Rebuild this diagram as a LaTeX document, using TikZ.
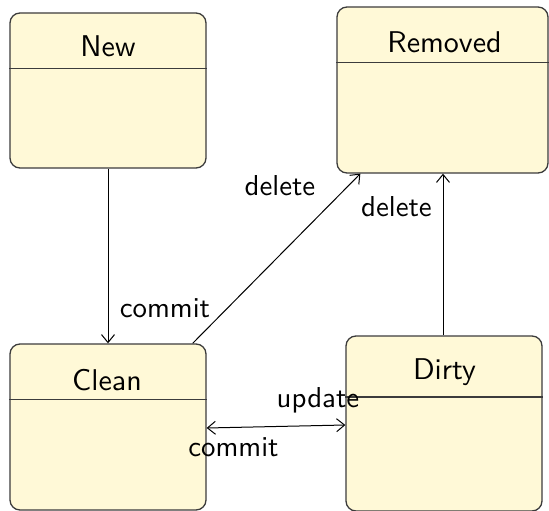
\documentclass[tikz,border=0pt]{standalone}
\usetikzlibrary{arrows.meta,calc}
\definecolor{statefill}{HTML}{FFF9D7}
\definecolor{stateline}{HTML}{3C3C3C}
\newcommand\titlefmt[1]{\scalebox{3.0}{\sffamily\fontsize{10}{12}\selectfont #1}}
\newcommand\labelfmt[1]{\scalebox{2.88}{\sffamily\fontsize{10}{12}\selectfont #1}}
\tikzset{
  state/.style={draw=stateline, fill=statefill, line width=1.3pt, rounded corners=10pt, inner sep=0pt},
  divider/.style={draw=stateline, line width=1.3pt},
  titletext/.style={anchor=base, inner sep=0pt},
  labeltext/.style={anchor=base, inner sep=0pt},
  trans/.style={draw=black, line width=1pt, -{Straight Barb[length=8pt,width=13pt]}},
}
\begin{document}
\begin{tikzpicture}[x=1pt,y=-1pt]
\useasboundingbox (0,0) rectangle (549,511);
% states
\node[state, minimum width=196pt, minimum height=155pt] (new) at (108,90.5) {};
\node[state, minimum width=211pt, minimum height=166pt] (removed) at (442.5,90) {};
\node[state, minimum width=196pt, minimum height=166pt] (clean) at (108,427) {};
\node[state, minimum width=196pt, minimum height=175pt] (dirty) at (444,423.5) {};
% dividers
\draw[divider] ([yshift=-56pt]new.north west) -- ([yshift=-56pt]new.north east);
\draw[divider] ([yshift=-56pt]removed.north west) -- ([yshift=-56pt]removed.north east);
\draw[divider] ([yshift=-56pt]clean.north west) -- ([yshift=-56pt]clean.north east);
\draw[divider] ([yshift=-61.5pt]dirty.north west) -- ([yshift=-61.5pt]dirty.north east);
% titles
\node[titletext] (newt) at (108,57) {\titlefmt{New}};
\node[titletext] (removedt) at (444.5,52.7) {\titlefmt{Removed}};
\node[titletext] (cleant) at (107,390) {\titlefmt{Clean}};
\node[titletext] (dirtyt) at (444.5,379.3) {\titlefmt{Dirty}};
% transitions
\draw[trans] (new.south) -- (clean.north);
\draw[trans] ([xshift=-14pt]clean.north east) -- ([xshift=24pt]removed.south west);
\draw[trans] ([xshift=-1pt]dirty.north) -- ([xshift=-1pt]dirty.north |- removed.south);
\draw[trans, {Straight Barb[length=8pt,width=13pt]}-{Straight Barb[length=8pt,width=13pt]}] ([yshift=-1pt]clean.east) -- ([yshift=-1.5pt]dirty.west);
% labels
\node[labeltext] (lcommit1) at (165,317.7) {\labelfmt{commit}};
\node[labeltext] (ldelete1) at (280,195) {\labelfmt{delete}};
\node[labeltext] (ldelete2) at (396.5,216) {\labelfmt{delete}};
\node[labeltext] (lupdate) at (318,407) {\labelfmt{update}};
\node[labeltext] (lcommit2) at (233.5,456) {\labelfmt{commit}};
\end{tikzpicture}
\end{document}
